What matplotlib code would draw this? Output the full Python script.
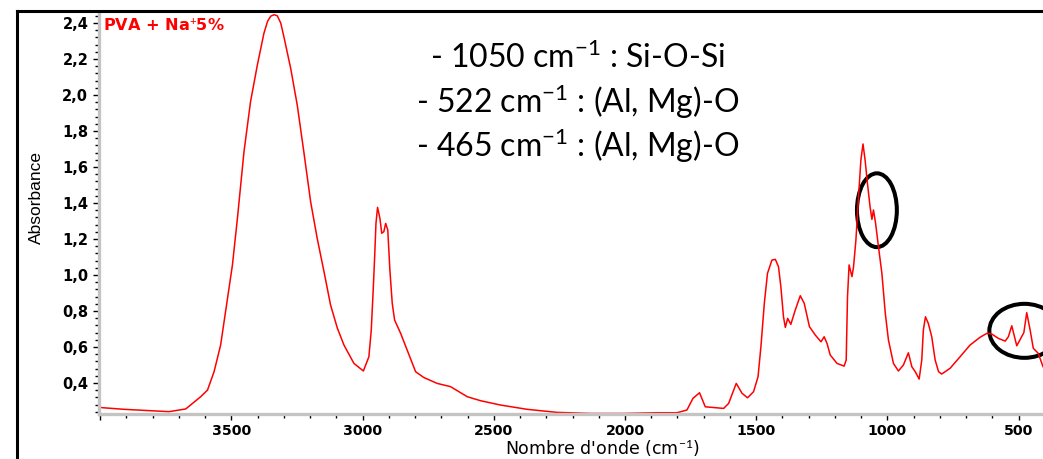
import matplotlib
matplotlib.use("Agg")
import matplotlib.pyplot as plt
from matplotlib.ticker import MultipleLocator, FuncFormatter
from matplotlib.patches import Ellipse

# ---- data ----
wavenumber = [4000, 3991, 3909, 3807, 3738, 3674, 3617, 3591, 3566, 3541,
              3515, 3496, 3477, 3452, 3427, 3401, 3376, 3362, 3350, 3337,
              3325, 3312, 3300,
              3274, 3249, 3224, 3198, 3173, 3147, 3122, 3096, 3071, 3033,
              2997, 2976, 2967, 2959, 2954, 2949, 2943, 2934, 2927, 2919,
              2912, 2904, 2896, 2887, 2878, 2855, 2830, 2798, 2767, 2716,
              2665, 2601, 2551, 2475, 2373, 2259, 2132, 2005, 1878, 1802,
              1764, 1741, 1716, 1694, 1624, 1605, 1576, 1554, 1533, 1510,
              1493, 1482, 1469, 1457, 1440, 1427, 1415, 1406, 1396, 1389,
              1380, 1368, 1351, 1332, 1317, 1297, 1275, 1253, 1241, 1230,
              1218, 1192, 1165, 1157, 1152, 1146, 1135, 1129, 1120, 1110,
              1101, 1093, 1085, 1076, 1066, 1059, 1053, 1045, 1034, 1021,
              1008, 996, 977, 958, 939, 920, 907, 894, 879, 869,
              863, 855, 844, 831, 818, 805, 793, 761, 723, 685,
              647, 621, 602, 577, 551, 539, 526, 507, 480, 469, 456,
              444, 425, 407]
absorbance = [0.265, 0.263, 0.254, 0.246, 0.241, 0.256, 0.324, 0.361, 0.463, 0.611,
              0.870, 1.056, 1.315, 1.685, 1.963, 2.167, 2.343, 2.410, 2.438, 2.446,
              2.440, 2.400, 2.324,
              2.148, 1.944, 1.685, 1.407, 1.204, 1.018, 0.833, 0.704, 0.611, 0.509,
              0.467, 0.546, 0.694, 0.935, 1.102, 1.287, 1.376, 1.315, 1.232, 1.241,
              1.287, 1.250, 1.028, 0.843, 0.750, 0.676, 0.583, 0.463, 0.431, 0.398,
              0.380, 0.324, 0.302, 0.278, 0.254, 0.237, 0.231, 0.231, 0.235, 0.235,
              0.250, 0.315, 0.346, 0.268, 0.259, 0.287, 0.398, 0.343, 0.318, 0.352,
              0.435, 0.602, 0.843, 1.009, 1.083, 1.087, 1.046, 0.935, 0.768, 0.709,
              0.759, 0.726, 0.806, 0.885, 0.843, 0.713, 0.667, 0.629, 0.657, 0.620,
              0.556, 0.509, 0.494, 0.528, 0.879, 1.056, 0.991, 1.046, 1.194, 1.435,
              1.639, 1.728, 1.639, 1.509, 1.379, 1.309, 1.361, 1.287, 1.157, 1.009,
              0.787, 0.639, 0.509, 0.467, 0.500, 0.568, 0.491, 0.463, 0.422, 0.528,
              0.694, 0.768, 0.731, 0.657, 0.528, 0.463, 0.450, 0.482, 0.546, 0.611,
              0.654, 0.676, 0.672, 0.648, 0.633, 0.657, 0.718, 0.607, 0.680, 0.791, 0.694,
              0.593, 0.565, 0.491]

sample_label = "PVA + Na$^{+}$5%"
band_labels = ["- 1050 cm$^{-1}$ : Si-O-Si",
               "- 522 cm$^{-1}$ : (Al, Mg)-O",
               "- 465 cm$^{-1}$ : (Al, Mg)-O"]
# highlighted regions: (centre wavenumber, centre absorbance, width cm-1, height)
highlights = [(1040, 1.36, 152, 0.41), (478, 0.69, 267, 0.30)]

plt.rcParams['mathtext.fontset'] = 'custom'
plt.rcParams['mathtext.rm'] = 'Lato'
plt.rcParams['mathtext.it'] = 'Lato'
plt.rcParams['mathtext.bf'] = 'Lato:bold'

W, H = 1043, 459
fig = plt.figure(figsize=(W / 100, H / 100), dpi=100)
fig.patch.set_facecolor('white')

ax_l, ax_r, ax_t, ax_b = 99.4, 1043, 14, 414
ax = fig.add_axes([ax_l / W, 1 - ax_b / H, (ax_r - ax_l) / W, (ax_b - ax_t) / H])

ax.plot(wavenumber, absorbance, color='#ff0000', lw=1.1, solid_joinstyle='round')
ax.set_xlim(4003, 407)
ax.set_ylim(0.228, 2.45)

for s in ('top', 'right'):
    ax.spines[s].set_visible(False)
for s in ('left', 'bottom'):
    ax.spines[s].set_color('#c4c4c4')
    ax.spines[s].set_linewidth(2.4)

ax.xaxis.set_major_locator(MultipleLocator(500))
ax.xaxis.set_minor_locator(MultipleLocator(100))
ax.yaxis.set_minor_locator(MultipleLocator(0.04))
ax.set_yticks([0.4, 0.6, 0.8, 1.0, 1.2, 1.4, 1.6, 1.8, 2.0, 2.2, 2.4])
ax.yaxis.set_major_formatter(FuncFormatter(lambda v, p: f"{v:.1f}".replace('.', ',')))
ax.xaxis.set_major_formatter(FuncFormatter(lambda v, p: f"{v:.0f}" if 500 <= v <= 3500 else ""))

ax.tick_params(axis='both', which='major', direction='out', length=4, width=1,
               color='black', labelsize=10.5, pad=4)
ax.tick_params(axis='x', which='major', pad=3, labelsize=10.2)
ax.tick_params(axis='both', which='minor', direction='out', length=3, width=1,
               color='black')
for lab in ax.get_xticklabels() + ax.get_yticklabels():
    lab.set_fontweight('bold')
    lab.set_family('DejaVu Sans')

ax.text(0.004, 0.956, sample_label, transform=ax.transAxes, color='#ff0000',
        fontsize=11.6, fontweight='bold', family='DejaVu Sans', ha='left', va='baseline')

ax.text(-0.0672, 0.54, "Absorbance", transform=ax.transAxes, rotation=90,
        fontsize=12.5, family='Liberation Sans', ha='center', va='center')
ax.text(0.533, -0.1025, "Nombre d'onde (cm$^{-1}$)", transform=ax.transAxes,
        fontsize=12.5, family='DejaVu Sans', ha='center', va='baseline')

for yb, txt in zip([0.864, 0.752, 0.643], band_labels):
    ax.text(0.507, yb, txt, transform=ax.transAxes, fontsize=23, family='Lato',
            ha='center', va='baseline', color='black')

for cx, cy, w, h in highlights:
    ax.add_patch(Ellipse((cx, cy), w, h, fill=False, edgecolor='black', lw=2.9,
                         clip_on=False))

# outer black frame (left and top)
fx = 16.5 / W
fy = 1 - 10.5 / H
fig.add_artist(plt.Line2D([fx, fx], [0, fy], color='black', lw=2.2))
fig.add_artist(plt.Line2D([fx, 1], [fy, fy], color='black', lw=2.2))

fig.savefig('out.png', dpi=100)
